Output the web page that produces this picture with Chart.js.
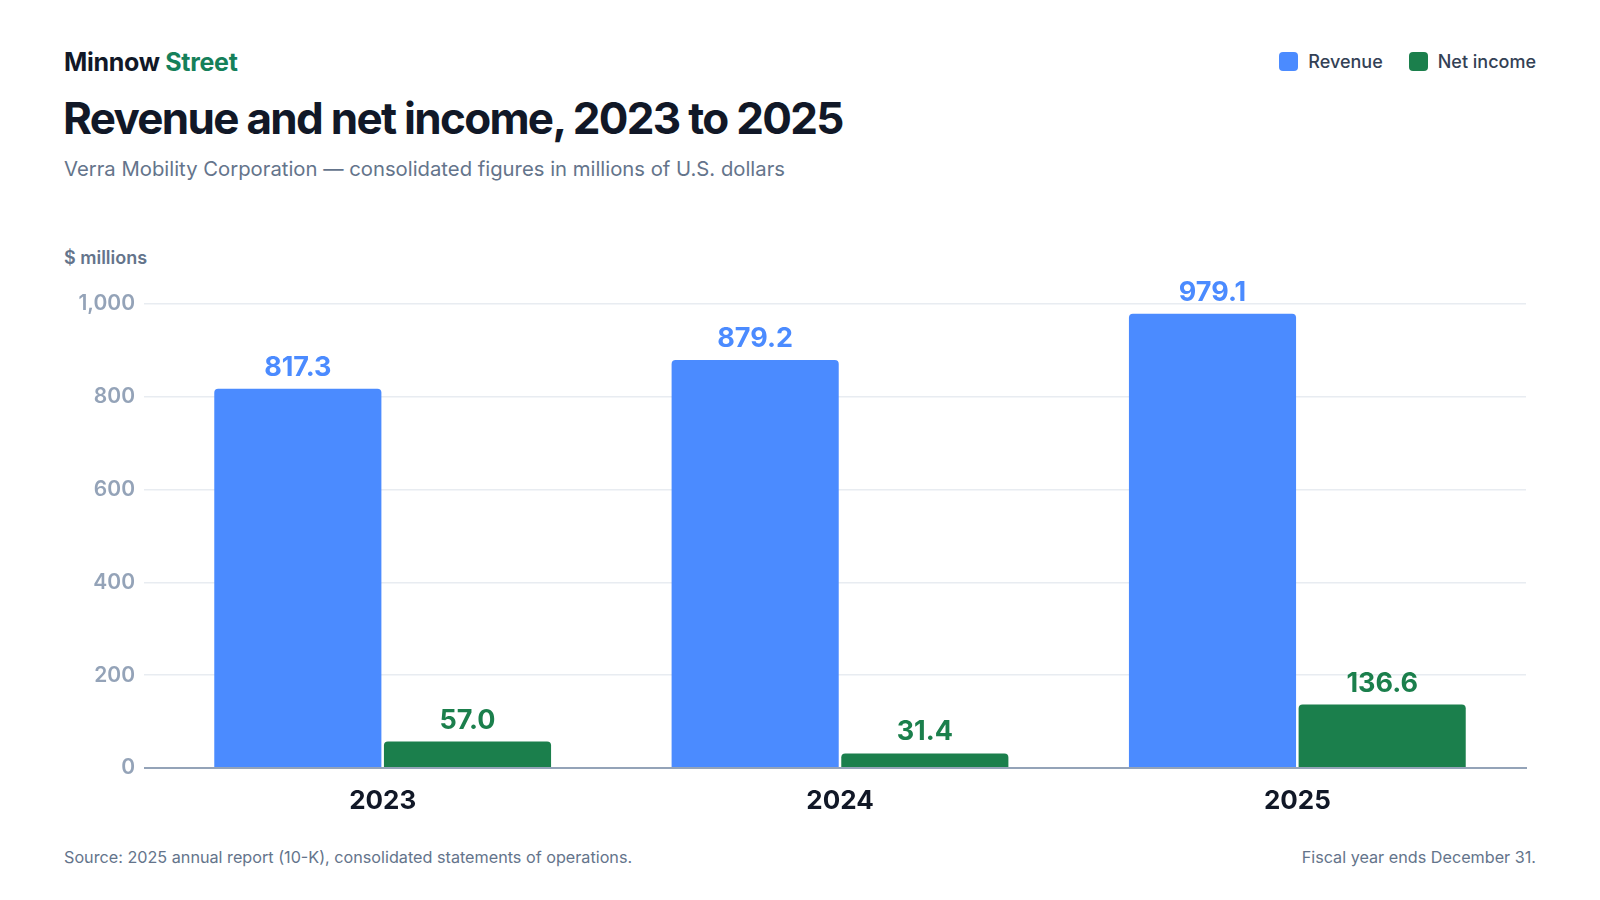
<!DOCTYPE html>
<html>
<head>
<meta charset="utf-8">
<script src="https://cdn.jsdelivr.net/npm/chart.js@4.4.1/dist/chart.umd.min.js"></script>
<style>
  html, body { margin: 0; padding: 0; background: #ffffff; }
  body { width: 1600px; height: 900px; position: relative; font-family: Inter, "Noto Sans", sans-serif; overflow: hidden; }
  .brand { position: absolute; left: 64px; top: 47px; font-size: 25px; font-weight: 700; letter-spacing: -0.3px; color: #111827; }
  .brand span { color: #15805a; }
  .title { position: absolute; left: 63px; top: 91px; font-size: 44px; font-weight: 700; letter-spacing: -1.7px; color: #111827; }
  .subtitle { position: absolute; left: 64px; top: 156px; font-size: 20.3px; color: #64748b; }
  .unit { position: absolute; left: 64px; top: 247px; font-size: 18px; font-weight: 600; color: #64748b; }
  .legend { position: absolute; right: 64px; top: 51px; display: flex; gap: 26px; font-size: 18px; font-weight: 500; color: #334155; }
  .legend div { display: flex; align-items: center; }
  .legend i { display: inline-block; width: 19px; height: 19px; border-radius: 4px; margin-right: 10px; }
  .foot { position: absolute; top: 847px; font-size: 16.2px; color: #64748b; }
  .chart-box { position: absolute; left: 64px; top: 270px; width: 1472px; height: 548px; }
</style>
</head>
<body>
  <div class="brand">Minnow <span>Street</span></div>
  <div class="legend" id="legend"></div>
  <div class="title">Revenue and net income, 2023 to 2025</div>
  <div class="subtitle">Verra Mobility Corporation — consolidated figures in millions of U.S. dollars</div>
  <div class="unit">$ millions</div>
  <div class="chart-box"><canvas id="barChart"></canvas></div>
  <div class="foot" style="left:64px;">Source: 2025 annual report (10-K), consolidated statements of operations.</div>
  <div class="foot" style="right:64px;">Fiscal year ends December 31.</div>

<script>
// Chart data
const years = ["2023", "2024", "2025"];
const revenue = [817.3, 879.2, 979.1];
const netIncome = [57.0, 31.4, 136.6];
const yTicks = [0, 200, 400, 600, 800, 1000];

const seriesNames = ["Revenue", "Net income"];
const seriesColors = ["#4b8bff", "#1b7f4c"];

// Value labels drawn above each bar
const barLabels = {
  id: "barLabels",
  afterDatasetsDraw(chart) {
    const ctx = chart.ctx;
    ctx.save();
    ctx.font = "700 27px Inter";
    ctx.textAlign = "center";
    ctx.textBaseline = "alphabetic";
    chart.data.datasets.forEach((ds, i) => {
      const meta = chart.getDatasetMeta(i);
      ctx.fillStyle = ds.backgroundColor;
      meta.data.forEach((bar, j) => {
        ctx.fillText(ds.data[j].toFixed(1), bar.x, bar.y - 13);
      });
    });
    ctx.restore();
  },
};

const barCtx = document.getElementById("barChart").getContext("2d");
const barChart = new Chart(barCtx, {
  type: "bar",
  data: {
    labels: years,
    datasets: [
      { label: seriesNames[0], data: revenue, backgroundColor: seriesColors[0] },
      { label: seriesNames[1], data: netIncome, backgroundColor: seriesColors[1] },
    ],
  },
  options: {
    responsive: true,
    maintainAspectRatio: false,
    animation: false,
    categoryPercentage: 0.742,
    barPercentage: 0.985,
    elements: {
      bar: { borderRadius: 4 },
    },
    layout: {
      padding: { top: 34, right: 10, bottom: 0, left: 0 },
    },
    plugins: {
      legend: { display: false },
      tooltip: { enabled: false },
    },
    scales: {
      x: {
        grid: { display: false },
        border: { display: true, color: "#94a3b8", width: 2 },
        ticks: {
          color: "#111827",
          font: { family: "Inter", size: 26, weight: "700" },
          padding: 10,
        },
        afterFit(scale) {
          scale.height = 50;
        },
      },
      y: {
        min: 0,
        max: 1000,
        afterBuildTicks(scale) {
          scale.ticks = yTicks.map((v) => ({ value: v }));
        },
        grid: {
          color: (c) => (c.tick && c.tick.value === 0 ? "#94a3b8" : "#e8ecf1"),
          lineWidth: (c) => (c.tick && c.tick.value === 0 ? 2 : 1.5),
          drawTicks: true,
          tickLength: 10,
        },
        border: { display: false },
        ticks: {
          color: "#94a3b8",
          font: { family: "Inter", size: 21, weight: "600" },
          padding: 9,
          callback: (v) => v.toLocaleString("en-US"),
        },
        afterFit(scale) {
          scale.width = 90;
        },
      },
    },
  },
  plugins: [barLabels],
});

// HTML legend from the datasets
const legendEl = document.getElementById("legend");
barChart.data.datasets.forEach((ds) => {
  const item = document.createElement("div");
  item.innerHTML = '<i style="background:' + ds.backgroundColor + '"></i>' + ds.label;
  legendEl.appendChild(item);
});
</script>
</body>
</html>
